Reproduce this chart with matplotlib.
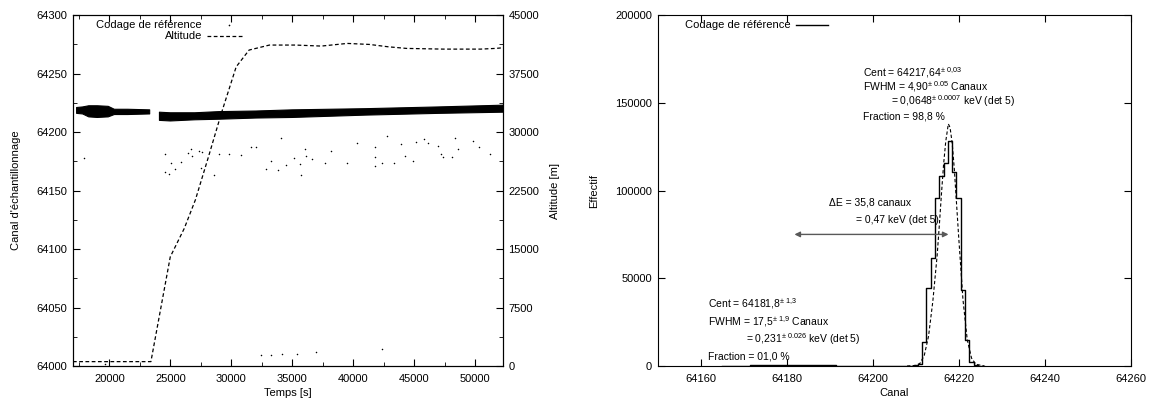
"""Reference coding drift vs. time (left) and reference channel spectrum (right)."""

import numpy as np
import matplotlib
matplotlib.use('Agg')
import matplotlib.pyplot as plt
from matplotlib.ticker import MultipleLocator

plt.rcParams['font.family'] = ['Liberation Sans', 'DejaVu Sans']
plt.rcParams['mathtext.fontset'] = 'custom'
plt.rcParams['mathtext.rm'] = 'Liberation Sans'
plt.rcParams['mathtext.it'] = 'Liberation Sans:italic'
plt.rcParams['font.size'] = 8

# ---- left panel: altitude (dashed, right axis) ----
alt_t = [17000, 23400, 24990, 26140, 27050, 28100, 29180, 30400, 31460,
         33130, 35260, 37390, 39520, 41340, 42860, 44380, 47420, 50460,
         51680, 52300]
alt_m = [560, 560, 14000, 17650, 21300, 26700, 32400, 38370, 40520,
         41160, 41160, 41030, 41370, 41240, 40940, 40730, 40640, 40640,
         40730, 40810]

# dense band of reference coding values (envelope)
band_t = [17300, 17800, 18300, 19000, 19900, 20400, 21500, 23300, 23700,
          24100, 25000, 27000, 29000, 32000, 35000, 41000, 47000, 52300]
band_lo = [64216, 64215.5, 64213, 64212.5, 64213, 64215, 64215, 64215.5,
           np.nan, 64210, 64209.5, 64210.5, 64211, 64212, 64212.5, 64214.5,
           64216, 64217]
band_hi = [64221, 64221.5, 64222.5, 64222.5, 64222, 64219.5, 64219.5, 64219,
           np.nan, 64217, 64216.5, 64216.5, 64217.5, 64218, 64219, 64220,
           64221.5, 64223]

# isolated reference coding points
ref_t = [17870, 24530, 25080, 24560, 24860, 25380, 25900, 26450, 26660,
         26750, 27360, 27600, 27540, 28570, 29030, 29850, 30760, 31610,
         32010, 32830, 33290, 33800, 34110, 34500, 35170, 35630, 35720,
         36050, 36140, 36630, 37690, 38150, 39520, 40280, 41800, 41800,
         41800, 42400, 42800, 43320, 43930, 44230, 44930, 45140, 45840,
         46140, 46970, 47180, 47360, 48330, 48640, 48090, 49850, 50310,
         51220, 32460, 33290, 34140, 35410, 36930, 42340, 19670]
ref_c = [64178.1, 64181.2, 64173.2, 64166.1, 64164.1, 64168.1, 64174.6,
         64181.8, 64185.8, 64179.5, 64184.0, 64182.9, 64168.9, 64163.2,
         64180.9, 64180.9, 64180.6, 64187.2, 64187.2, 64168.4, 64175.5,
         64167.5, 64195.2, 64171.8, 64177.5, 64172.4, 64163.2, 64185.8,
         64179.5, 64177.2, 64173.8, 64183.8, 64173.8, 64190.9, 64187.5,
         64178.9, 64171.2, 64173.2, 64196.9, 64173.2, 64189.7, 64179.5,
         64175.2, 64191.7, 64193.7, 64190.9, 64188.0, 64181.2, 64178.3,
         64195.2, 64185.8, 64179.1, 64192.6, 64187.2, 64181.2, 64009.4,
         64009.4, 64010.5, 64010.5, 64011.7, 64014.5, 64002.0]

# ---- right panel: spectrum of the reference channel ----
hist_chan = list(range(64165, 64227))
hist_n = [40, 60, 90, 120, 160, 220, 280, 340, 390, 430, 470, 500, 530, 550,
          560, 570, 570, 570, 560, 550, 530, 500, 470, 440, 400, 360, 320,
          280, 240, 200, 170, 140, 110, 90, 70, 50, 40, 30, 20, 15, 10, 10,
          20, 60, 200, 700, 1300, 13800, 44600, 61300, 95500, 108500,
          115500, 128300, 110400, 95800, 43600, 14800, 2300, 400, 50, 0]

fit_x = [64208, 64210, 64211, 64212, 64213, 64214, 64215, 64215.5, 64216,
         64216.5, 64217, 64217.6, 64218, 64218.5, 64219, 64219.5, 64220,
         64221, 64222, 64223, 64224, 64226]
fit_y = [0, 300, 1500, 6000, 17000, 37000, 63000, 80000, 98000, 115000,
         128000, 138000, 136000, 127000, 112000, 93000, 74000, 38000,
         15000, 4500, 1000, 0]

cent_main = 64217.64
cent_sec = 64181.8
arrow_y = 75000


def style_ticks(ax):
    ax.tick_params(which='both', direction='in', top=True, labelsize=8, pad=4)
    ax.tick_params(axis='x', which='both', pad=6)
    ax.tick_params(which='major', length=5)
    ax.tick_params(which='minor', length=3)


fig = plt.figure(figsize=(11.56, 4.01), dpi=100)

# Left: reference coding and altitude vs time
ax1 = fig.add_axes([0.0631, 0.0873, 0.372, 0.875])
ax1.fill_between(band_t, band_lo, band_hi, color='black', lw=0.8)
ax1.plot(ref_t, ref_c, 'o', color='black', ms=1.1, mew=0)
ax1.set_xlim(17000, 52300)
ax1.set_ylim(64000, 64300)
ax1.xaxis.set_major_locator(MultipleLocator(5000))
ax1.xaxis.set_minor_locator(MultipleLocator(2500))
ax1.yaxis.set_major_locator(MultipleLocator(50))
ax1.yaxis.set_minor_locator(MultipleLocator(25))
style_ticks(ax1)
ax1.tick_params(which='both', right=False)
ax1.set_xlabel('Temps [s]')
ax1.set_ylabel("Canal d'échantillonnage")
ax1.xaxis.set_label_coords(0.5, -0.062)
ax1.yaxis.set_label_coords(-0.12, 0.5)

ax2 = ax1.twinx()
ax2.plot(alt_t, alt_m, color='black', lw=0.9, dashes=(3, 2))
ax2.set_ylim(0, 45000)
ax2.yaxis.set_major_locator(MultipleLocator(7500))
ax2.yaxis.set_minor_locator(MultipleLocator(3750))
ax2.tick_params(which='both', direction='in', labelsize=8, pad=4)
ax2.tick_params(which='major', length=5)
ax2.tick_params(which='minor', length=3)
ax2.set_ylabel('Altitude [m]')
ax2.yaxis.set_label_coords(1.109, 0.5)

# gnuplot-like key
ax2.text(0.300, 0.972, 'Codage de référence', transform=ax2.transAxes,
         ha='right', va='center', fontsize=8)
ax2.plot([0.362], [0.972], 'o', color='black', ms=1.2, mew=0,
         transform=ax2.transAxes)
ax2.text(0.300, 0.940, 'Altitude', transform=ax2.transAxes,
         ha='right', va='center', fontsize=8)
ax2.plot([0.312, 0.398], [0.940, 0.940], color='black', lw=0.9,
         dashes=(3, 2), transform=ax2.transAxes)

# Right: spectrum
ax3 = fig.add_axes([0.569, 0.0873, 0.409, 0.875])
ax3.step(hist_chan, hist_n, where='mid', color='black', lw=1)
ax3.plot(fit_x, fit_y, color='black', lw=0.8, dashes=(3, 2))
ax3.set_xlim(64150, 64260)
ax3.set_ylim(0, 200000)
ax3.xaxis.set_major_locator(MultipleLocator(20))
ax3.yaxis.set_major_locator(MultipleLocator(50000))
style_ticks(ax3)
ax3.tick_params(which='both', right=True)
ax3.set_xlabel('Canal')
ax3.set_ylabel('Effectif')
ax3.xaxis.set_label_coords(0.5, -0.062)
ax3.yaxis.set_label_coords(-0.123, 0.5)

ax3.text(0.282, 0.972, 'Codage de référence', transform=ax3.transAxes,
         ha='right', va='center', fontsize=8)
ax3.plot([0.293, 0.361], [0.972, 0.972], color='black', lw=1,
         transform=ax3.transAxes)

ann = dict(transform=ax3.transAxes, ha='left', va='center', fontsize=7.5)
ax3.text(0.435, 0.837, r'Cent = 64217,64$^{\pm\ 0{,}03}$', **ann)
ax3.text(0.435, 0.795, r'FWHM = 4,90$^{\pm\ 0.05}$ Canaux', **ann)
ax3.text(0.493, 0.755, r'= 0,0648$^{\pm\ 0.0007}$ keV (det 5)', **ann)
ax3.text(0.435, 0.712, 'Fraction = 98,8 %', **ann)

ax3.text(0.363, 0.466, 'ΔE = 35,8 canaux', **ann)
ax3.text(0.419, 0.415, '= 0,47 keV (det 5)', **ann)
ax3.annotate('', xy=(cent_main, arrow_y), xytext=(cent_sec, arrow_y),
             arrowprops=dict(arrowstyle='<|-|>', color='0.35', lw=1,
                             mutation_scale=8, shrinkA=0, shrinkB=0))

ax3.text(0.106, 0.177, r'Cent = 64181,8$^{\pm\ 1{,}3}$', **ann)
ax3.text(0.106, 0.127, r'FWHM = 17,5$^{\pm\ 1{,}9}$ Canaux', **ann)
ax3.text(0.186, 0.076, r'= 0,231$^{\pm\ 0.026}$ keV (det 5)', **ann)
ax3.text(0.106, 0.028, 'Fraction = 01,0 %', **ann)

fig.savefig('out.png', dpi=100)
plt.close(fig)
